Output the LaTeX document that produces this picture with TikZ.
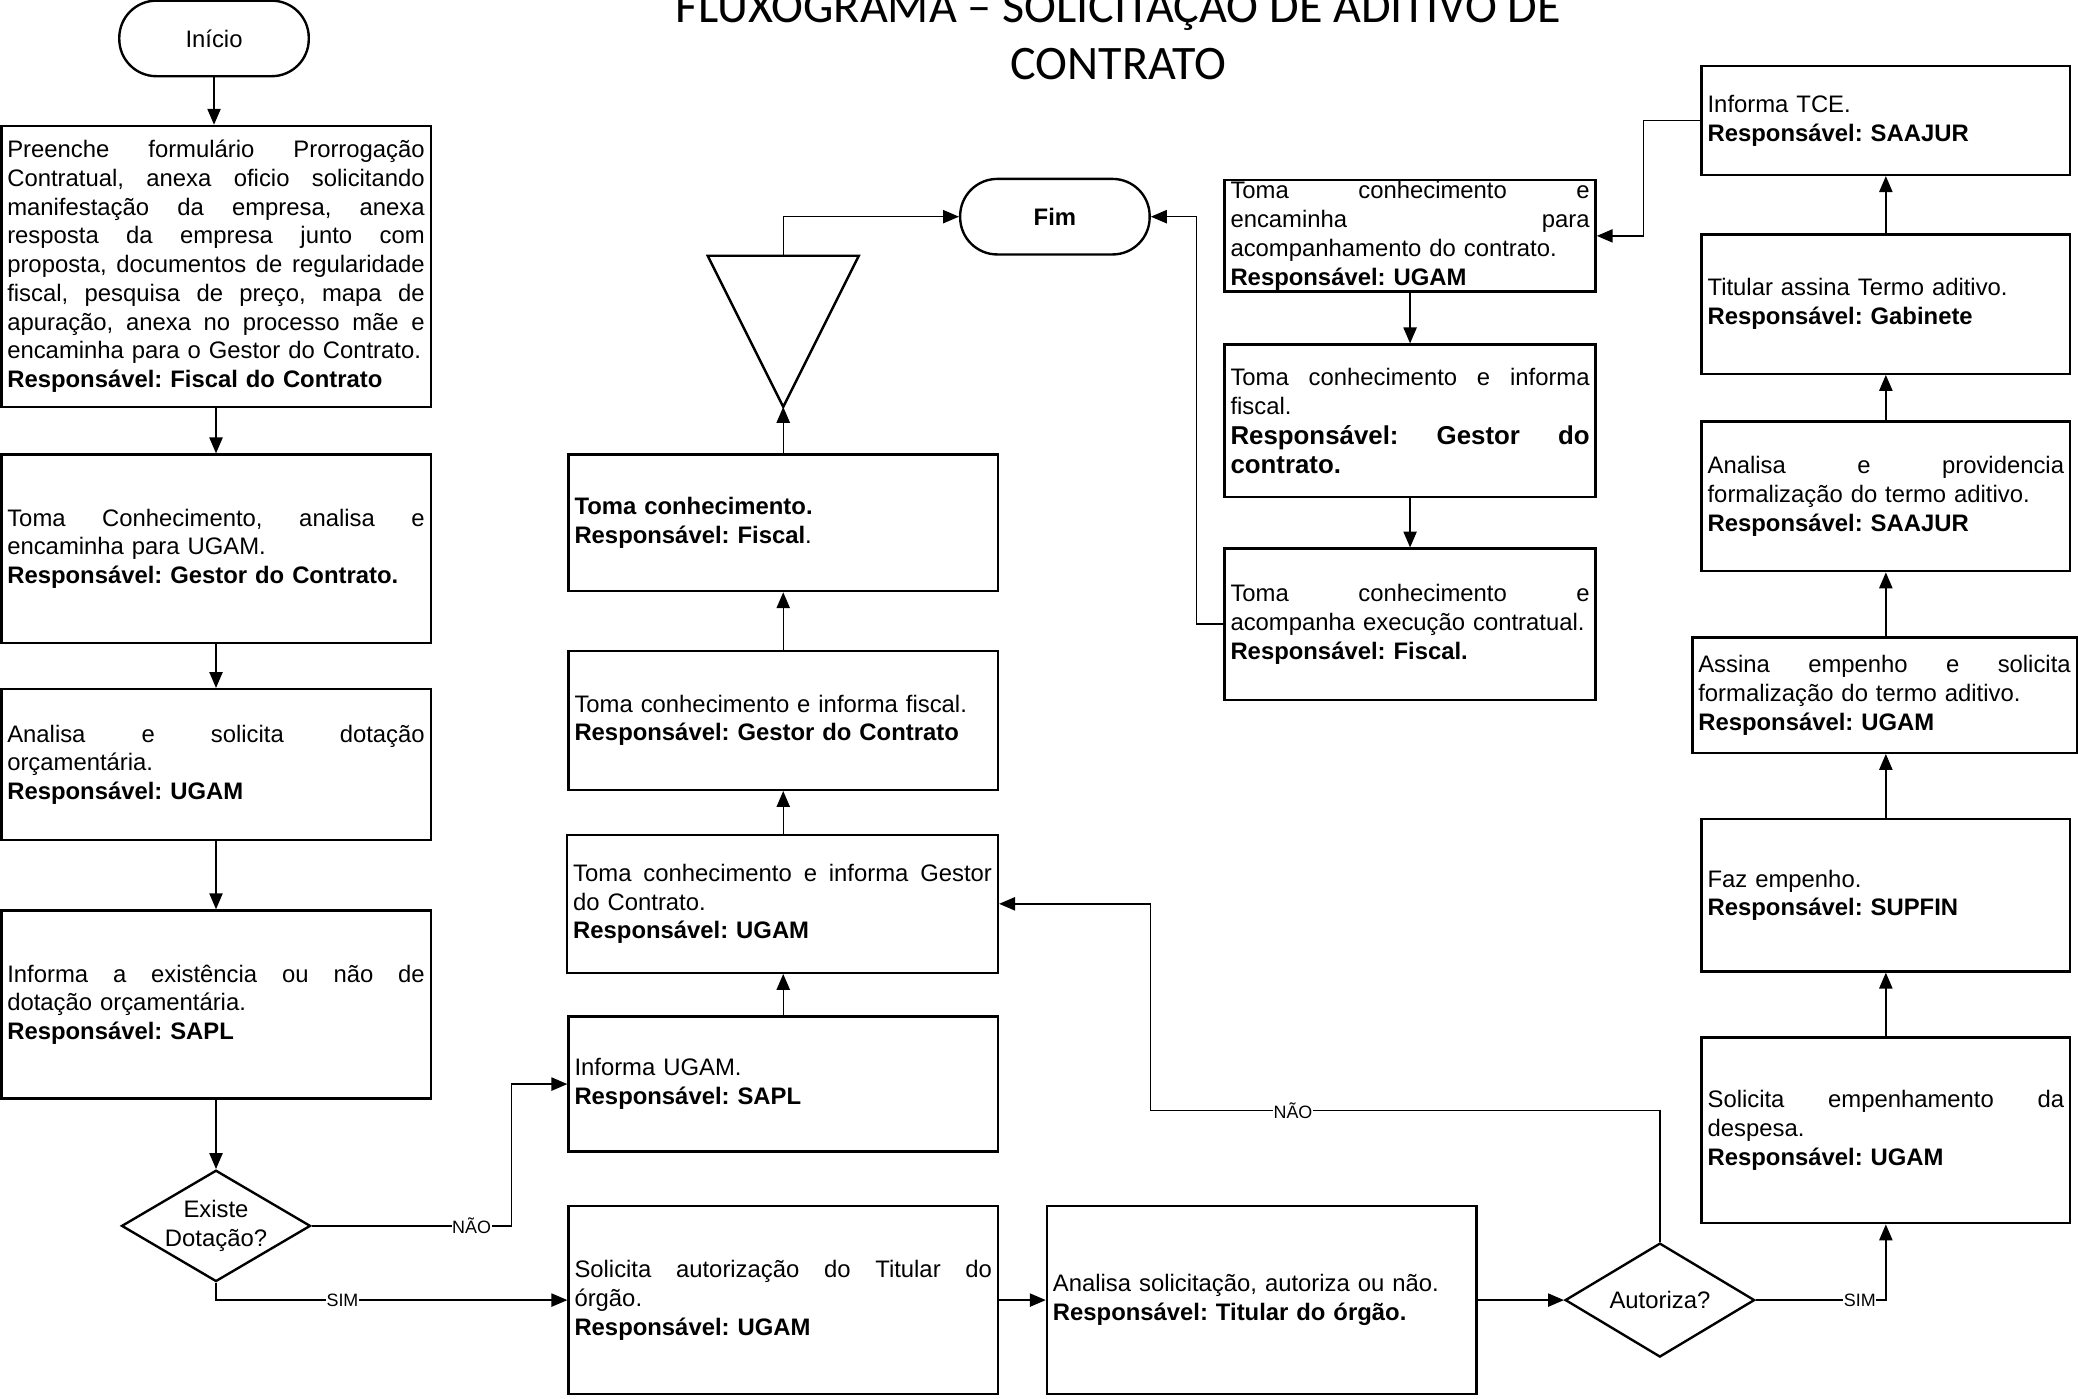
\documentclass[tikz,border=0pt]{standalone}
\usepackage{fontspec}
\setmainfont{Liberation Sans}
\newfontfamily\titlefont{Carlito}
\usetikzlibrary{arrows.meta,shapes.geometric}
\setlength{\parindent}{0pt}
\frenchspacing
\newcommand{\J}[2][315pt]{\leavevmode\hbox to #1{\spaceskip=0.278em plus 1fil\relax #2}}
\tikzset{
  box/.style={draw, line width=1.8pt, rectangle, inner xsep=4.5pt, inner ysep=0pt,
    align=left, font=\fontsize{18pt}{21.7pt}\selectfont},
  term/.style={draw, line width=1.8pt, rectangle, rounded corners=28pt, inner sep=0pt,
    minimum width=143pt, minimum height=57pt, font=\fontsize{18pt}{21.7pt}\selectfont},
  dec/.style={draw, line width=1.8pt, diamond, aspect=1.7, inner sep=0pt, align=center,
    font=\fontsize{18pt}{21.7pt}\selectfont},
  arr/.style={line width=1.1pt, -{Triangle[length=12pt,width=10pt]}},
  lbl/.style={fill=white, inner sep=0.5pt, font=\fontsize{13.5pt}{15pt}\selectfont},
  ttl/.style={font=\titlefont\fontsize{36.3pt}{43pt}\selectfont, inner sep=0pt}
}
\begin{document}
\begin{tikzpicture}[x=1pt,y=-1pt]
\useasboundingbox (0,0) rectangle (1568,1055);
\fill[white] (0,0) rectangle (1568,1055);

% title
\node[ttl, anchor=base] (t1) at (844,17) {FLUXOGRAMA – SOLICITAÇÃO DE ADITIVO DE};
\node[ttl, anchor=base] (t2) at (844,60) {CONTRATO};

% left column
\node[term] (inicio) at (161.5,29) {Início};
\node[box, minimum width=324pt, minimum height=212pt, text width=315pt] (B1) at (163,201) {%
\J{Preenche formulário Prorrogação}\\
\J{Contratual, anexa oficio solicitando}\\
\J{manifestação da empresa, anexa}\\
\J{resposta da empresa junto com}\\
\J{proposta, documentos de regularidade}\\
\J{fiscal, pesquisa de preço, mapa de}\\
\J{apuração, anexa no processo mãe e}\\
encaminha para o Gestor do Contrato.\\
\textbf{Responsável: Fiscal do Contrato}};
\node[box, minimum width=324pt, minimum height=142pt, text width=315pt] (B2) at (163,414) {%
\J{Toma Conhecimento, analisa e}\\
encaminha para UGAM.\\
\textbf{Responsável: Gestor do Contrato.}};
\node[box, minimum width=324pt, minimum height=114pt, text width=315pt] (B3) at (163,577) {%
\J{Analisa e solicita dotação}\\
orçamentária.\\
\textbf{Responsável: UGAM}};
\node[box, minimum width=324pt, minimum height=142pt, text width=315pt] (B4) at (163,758) {%
\J{Informa a existência ou não de}\\
dotação orçamentária.\\
\textbf{Responsável: SAPL}};
\node[dec, minimum width=142pt, minimum height=84pt] (D1) at (163,925) {Existe\\Dotação?};

% middle column
\node[box, minimum width=324pt, minimum height=103pt, text width=315pt] (M1) at (591,394.5) {%
\textbf{Toma conhecimento.}\\
\textbf{Responsável: Fiscal}.};
\node[box, minimum width=324pt, minimum height=105pt, text width=315pt] (M2) at (591,543.5) {%
Toma conhecimento e informa fiscal.\\
\textbf{Responsável: Gestor do Contrato}};
\node[box, minimum width=325pt, minimum height=104pt, text width=316pt] (M3) at (590.5,682) {%
\J[316pt]{Toma conhecimento e informa Gestor}\\
do Contrato.\\
\textbf{Responsável: UGAM}};
\node[box, minimum width=324pt, minimum height=102pt, text width=315pt] (M4) at (591,818) {%
Informa UGAM.\\
\textbf{Responsável: SAPL}};
\node[box, minimum width=324pt, minimum height=142pt, text width=315pt] (M5) at (591,981) {%
\J{Solicita autorização do Titular do}\\
órgão.\\
\textbf{Responsável: UGAM}};

% merge triangle
\coordinate (trtop) at (591,193);
\coordinate (trbot) at (591,307);
\draw[line width=1.8pt, line join=miter] (534,193) -- (648,193) -- (trbot) -- cycle;

\node[term, font=\fontsize{18pt}{21.7pt}\selectfont\bfseries] (fim) at (796,163.5) {Fim};

% bottom
\node[box, minimum width=324pt, minimum height=142pt, text width=315pt] (A) at (952,981) {%
Analisa solicitação, autoriza ou não.\\
\textbf{Responsável: Titular do órgão.}};
\node[dec, minimum width=143pt, minimum height=86pt] (D2) at (1252.5,981) {Autoriza?};

% R column
\node[box, minimum width=280pt, minimum height=84pt, text width=271pt] (R1) at (1064,178) {%
\J[271pt]{Toma conhecimento e}\\
\J[271pt]{encaminha para}\\
acompanhamento do contrato.\\
\textbf{Responsável: UGAM}};
\node[box, minimum width=280pt, minimum height=115pt, text width=271pt] (R2) at (1064,317.5) {%
\J[271pt]{Toma conhecimento e informa}\\
fiscal.\par
\fontsize{19.5pt}{23pt}\selectfont\bfseries
\J[271pt]{Responsável: Gestor do}\\
contrato.};
\node[box, minimum width=280pt, minimum height=114pt, text width=271pt] (R3) at (1064,471) {%
\J[271pt]{Toma conhecimento e}\\
acompanha execução contratual.\\
\textbf{Responsável: Fiscal.}};

% F column
\node[box, minimum width=278pt, minimum height=82pt, text width=269pt] (F1) at (1423,91) {%
Informa TCE.\\
\textbf{Responsável: SAAJUR}};
\node[box, minimum width=278pt, minimum height=105pt, text width=269pt] (F2) at (1423,229.5) {%
Titular assina Termo aditivo.\\
\textbf{Responsável: Gabinete}};
\node[box, minimum width=278pt, minimum height=113pt, text width=269pt] (F3) at (1423,374.5) {%
\J[269pt]{Analisa e providencia}\\
formalização do termo aditivo.\\
\textbf{Responsável: SAAJUR}};
\node[box, minimum width=290pt, minimum height=87pt, text width=281pt] (F4) at (1422,524.5) {%
\J[281pt]{Assina empenho e solicita}\\
formalização do termo aditivo.\\
\textbf{Responsável: UGAM}};
\node[box, minimum width=278pt, minimum height=115pt, text width=269pt] (F5) at (1423,675.5) {%
Faz empenho.\\
\textbf{Responsável: SUPFIN}};
\node[box, minimum width=278pt, minimum height=140pt, text width=269pt] (F6) at (1423,853) {%
\J[269pt]{Solicita empenhamento da}\\
despesa.\\
\textbf{Responsável: UGAM}};

% junction coordinates
\coordinate (j1) at (386,925);
\coordinate (j2) at (903,472);
\coordinate (j3) at (1240,91);
\coordinate (j4) at (868,838);

% connectors left column
\draw[arr] (inicio.south) -- (inicio.south |- B1.north);
\draw[arr] (B1.south) -- (B2.north);
\draw[arr] (B2.south) -- (B3.north);
\draw[arr] (B3.south) -- (B4.north);
\draw[arr] (B4.south) -- (D1.north);
\draw[arr] (D1.east) -- node[lbl, pos=0.8] {NÃO} (D1.east -| j1) |- (M4.west);
\draw[arr] (D1.south) |- node[lbl, pos=0.68] {SIM} (M5.west);

% middle column
\draw[arr] (M4.north) -- (M4.north |- M3.south);
\draw[arr] (M3.north -| M2.south) -- (M2.south);
\draw[arr] (M2.north) -- (M1.south);
\draw[arr] (M1.north) -- (trbot);
\draw[arr] (trtop) |- (fim.west);

% bottom row
\draw[arr] (M5.east) -- (A.west);
\draw[arr] (A.east) -- (D2.west);
\draw[arr] (D2.east) -| node[lbl, pos=0.4] {SIM} (F6.south);
\draw[arr] (D2.north) -- (D2.north |- j4) -- node[lbl, pos=0.72] {NÃO} (j4) |- (M3.east);

% F column
\draw[arr] (F6.north) -- (F5.south);
\draw[arr] (F5.north) -- (F5.north |- F4.south);
\draw[arr] (F4.north -| F3.south) -- (F3.south);
\draw[arr] (F3.north) -- (F2.south);
\draw[arr] (F2.north) -- (F1.south);
\draw[arr] (F1.west) -- (F1.west -| j3) |- (R1.east);

% R column
\draw[arr] (R1.south) -- (R2.north);
\draw[arr] (R2.south) -- (R3.north);
\draw[arr] (R3.west) -- (R3.west -| j2) |- (fim.east);
\end{tikzpicture}
\end{document}
